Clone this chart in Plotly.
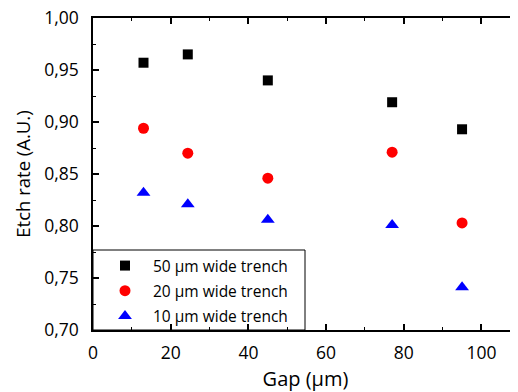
import plotly.graph_objects as go

gap = [13, 24.4, 45, 77, 95]
rate_50 = [0.957, 0.965, 0.940, 0.919, 0.893]
rate_20 = [0.894, 0.870, 0.846, 0.871, 0.803]
rate_10 = [0.832, 0.821, 0.806, 0.801, 0.741]
names = ["50 \u03bcm wide trench", "20 \u03bcm wide trench", "10 \u03bcm wide trench"]

FONT = "Open Sans"
fig = go.Figure()
series = [(rate_50, "square", "black", 10), (rate_20, "circle", "red", 11), (rate_10, "triangle-up", "blue", 12)]
for i, (vals, sym, col, sz) in enumerate(series):
    fig.add_trace(go.Scatter(x=gap, y=vals, mode="markers", name=names[i], legendgroup=str(i),
                             marker=dict(symbol=sym, color=col, size=sz, line=dict(width=0))))

axis_common = dict(showline=True, linecolor="black", linewidth=1.5, mirror="allticks",
                   ticks="inside", ticklen=6, tickwidth=1.5, tickcolor="black",
                   showgrid=False, zeroline=False, automargin=False, ticklabeloverflow="allow",
                   tickfont=dict(family=FONT, size=17.5, color="black"))
fig.update_xaxes(range=[0, 109.4], dtick=20, tick0=0, ticklabelstandoff=6,
                 minor=dict(ticks="inside", ticklen=3, dtick=10, tickcolor="black", tickwidth=1),
                 title=dict(text="Gap (\u03bcm)", font=dict(family=FONT, size=20, color="black"), standoff=10),
                 **axis_common)
fig.update_yaxes(range=[0.70, 1.00], dtick=0.05, tick0=0.7, tickformat=".2f", ticklabelstandoff=9,
                 minor=dict(ticks="inside", ticklen=3, dtick=0.025, tickcolor="black", tickwidth=1),
                 title=dict(text="Etch rate (A.U.)", font=dict(family=FONT, size=18.5, color="black"), standoff=9),
                 **axis_common)
# legend frame
fig.add_shape(type="rect", xref="paper", yref="paper", x0=0, x1=(305 - 93) / 425, y0=0, y1=80 / 312,
              line=dict(color="black", width=1), fillcolor="white", layer="below")
# page body adds an 8px offset, so the figure is 8px smaller and margins shifted
fig.update_layout(width=510, height=384, margin=dict(l=85, r=0, t=10, b=62),
                  paper_bgcolor="white", plot_bgcolor="rgba(0,0,0,0)", separators=",.",
                  legend=dict(x=4 / 425, y=-3 / 312, xanchor="left", yanchor="bottom", bgcolor="rgba(0,0,0,0)",
                              borderwidth=0, tracegroupgap=2, itemwidth=46,
                              font=dict(family=FONT, size=15.5, color="black")))
fig.write_html("out.html")
